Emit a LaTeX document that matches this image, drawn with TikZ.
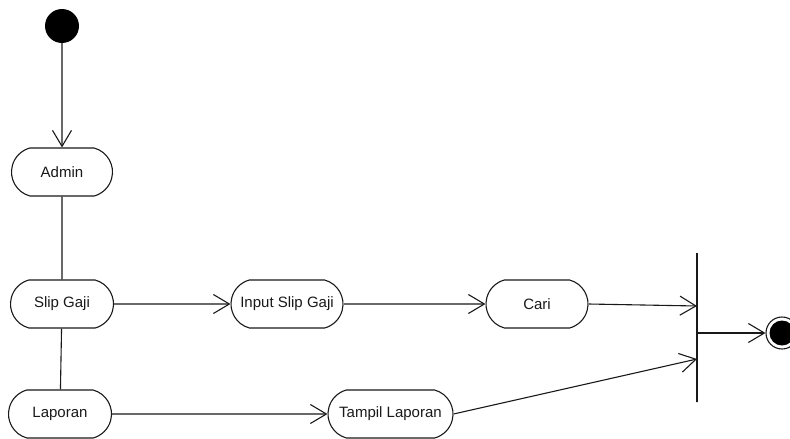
\documentclass[tikz,border=0pt]{standalone}
\usepackage{fontspec}
\setmainfont{Liberation Sans}
\usetikzlibrary{arrows.meta,shapes.misc}
\begin{document}
\begin{tikzpicture}[x=1pt,y=-1pt,
  act/.style={draw=black!90, line width=1.1pt, rounded rectangle, rounded rectangle arc length=150,
    minimum height=48pt, inner sep=0pt, font=\fontsize{15}{17}\selectfont, text=black!90},
  flow/.style={draw=black!90, line width=1.1pt, -{Straight Barb[length=16pt,width=19pt,line width=1.1pt]}},
  plain/.style={draw=black!90, line width=1.1pt}]
\useasboundingbox (0,0) rectangle (790,439);
\node[circle, fill=black, inner sep=0pt, minimum size=34pt] (start) at (62,26) {};
\node[act, minimum width=101pt] (admin) at (62,172) {Admin};
\node[act, minimum width=103pt] (slip) at (62,304) {Slip Gaji};
\node[act, minimum width=103pt] (lap) at (60,414) {Laporan};
\node[act, minimum width=112pt] (input) at (287,304) {Input Slip Gaji};
\node[act, minimum width=102pt] (cari) at (537,304) {Cari};
\node[act, minimum width=125pt] (tampil) at (390.5,414) {Tampil Laporan};
\node[draw=black!90, line width=1.2pt, inner sep=0pt, minimum width=0pt, minimum height=149pt] (bar) at (697,327.5) {};
\coordinate (j1) at (697,306);
\coordinate (j2) at (697,359);
\coordinate (j3) at (697,333);
\node[circle, draw=black!90, line width=1.1pt, minimum size=32pt, inner sep=0pt] (final) at (782,333) {};
\node[circle, fill=black, minimum size=25pt, inner sep=0pt] (finalin) at (782,333) {};
\draw[flow] (start) -- (admin);
\draw[plain] (admin) -- (slip);
\draw[plain] (slip) -- (lap);
\draw[flow] (slip) -- (input);
\draw[flow] (input) -- (cari);
\draw[flow] (cari.east) -- (j1);
\draw[flow] (lap) -- (tampil);
\draw[flow] (tampil.east) -- (j2);
\draw[flow] (j3) -- (final.west);
\end{tikzpicture}
\end{document}
